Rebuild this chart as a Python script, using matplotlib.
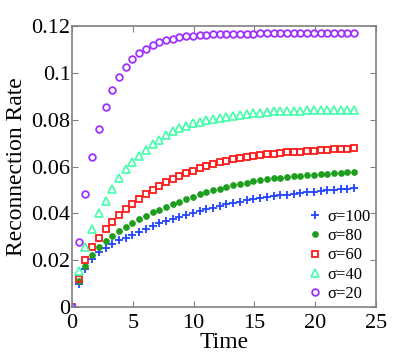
import numpy as np
import matplotlib
matplotlib.use("Agg")
import matplotlib.pyplot as plt
from matplotlib.ticker import FuncFormatter

# time axis: 43 samples, 0 .. 23.2
t = np.linspace(0, 23.2, 43)

# values
s100 = [0, 0.0097, 0.0161, 0.0204, 0.0235, 0.0252, 0.0269, 0.0285, 0.0296, 0.0309,
        0.0320, 0.0333, 0.0346, 0.0357, 0.0367, 0.0376, 0.0386, 0.0394, 0.0403, 0.0410,
        0.0418, 0.0424, 0.0433, 0.0439, 0.0445, 0.0450, 0.0456, 0.0461, 0.0465, 0.0471,
        0.0474, 0.0477, 0.0480, 0.0483, 0.0486, 0.0489, 0.0492, 0.0495, 0.0498, 0.0500,
        0.0503, 0.0506, 0.0509]
s80 = [0, 0.0111, 0.0175, 0.0222, 0.0255, 0.0282, 0.0302, 0.0325, 0.0342, 0.0359,
       0.0374, 0.0390, 0.0404, 0.0414, 0.0428, 0.0440, 0.0450, 0.0462, 0.0471, 0.0481,
       0.0490, 0.0498, 0.0505, 0.0512, 0.0519, 0.0525, 0.0531, 0.0537, 0.0541, 0.0547,
       0.0549, 0.0552, 0.0555, 0.0558, 0.0560, 0.0563, 0.0565, 0.0567, 0.0570, 0.0572,
       0.0574, 0.0576, 0.0578]
s60 = [0, 0.0121, 0.0201, 0.0255, 0.0296, 0.0332, 0.0363, 0.0392, 0.0417, 0.0440,
       0.0460, 0.0481, 0.0498, 0.0517, 0.0532, 0.0547, 0.0559, 0.0571, 0.0582, 0.0592,
       0.0602, 0.0611, 0.0618, 0.0625, 0.0632, 0.0636, 0.0642, 0.0645, 0.0649, 0.0652,
       0.0655, 0.0658, 0.0660, 0.0662, 0.0664, 0.0666, 0.0668, 0.0670, 0.0671, 0.0673,
       0.0674, 0.0676, 0.0677]
s40 = [0, 0.0155, 0.0257, 0.0334, 0.0400, 0.0454, 0.0505, 0.0552, 0.0588, 0.0618,
       0.0645, 0.0672, 0.0695, 0.0713, 0.0734, 0.0751, 0.0763, 0.0773, 0.0784, 0.0791,
       0.0798, 0.0804, 0.0808, 0.0812, 0.0817, 0.0821, 0.0824, 0.0827, 0.0830, 0.0834,
       0.0835, 0.0836, 0.0837, 0.0838, 0.0839, 0.0840, 0.0840, 0.0841, 0.0841, 0.0842,
       0.0842, 0.0842, 0.0842]
s20 = [0, 0.0276, 0.0483, 0.0640, 0.0761, 0.0855, 0.0928, 0.0983, 0.1026, 0.1060,
       0.1084, 0.1103, 0.1118, 0.1130, 0.1139, 0.1146, 0.1152, 0.1156, 0.1159, 0.1161,
       0.1163, 0.1164, 0.1165, 0.1166, 0.1166, 0.1167, 0.1167, 0.1167, 0.1168, 0.1168,
       0.1168, 0.1168, 0.1168, 0.1168, 0.1168, 0.1168, 0.1168, 0.1168, 0.1168, 0.1168,
       0.1168, 0.1168, 0.1168]

labels = ["\u03c3=100", "\u03c3=80", "\u03c3=60", "\u03c3=40", "\u03c3=20"]

plt.rcParams['font.family'] = ['Liberation Serif', 'DejaVu Serif']

fig = plt.figure(figsize=(4.15, 3.56), dpi=100)
ax = fig.add_axes([0.1735, 0.1376, 0.7325, 0.7894])

ax.plot(t, s100, '+', color='#2244ff', ms=5.5, mew=1.3, label=labels[0])
ax.plot(t, s80, 'o', color='#1e9e1e', ms=4, mew=0.8, label=labels[1])
ax.plot(t, s60, 's', color='#ff1a1a', mfc='none', ms=4.3, mew=1.3, label=labels[2])
ax.plot(t, s40, '^', color='#44ffaa', mfc='none', ms=5.8, mew=1.2, label=labels[3])
ax.plot(t, s20, 'o', color='#a030ff', mfc='none', ms=4.8, mew=1.3, label=labels[4])

ax.set_xlim(0, 25)
ax.set_ylim(0, 0.12)
ax.set_xticks([0, 5, 10, 15, 20, 25])
ax.set_yticks([0, 0.02, 0.04, 0.06, 0.08, 0.1, 0.12])
ax.yaxis.set_major_formatter(FuncFormatter(lambda v, p: '%g' % round(v, 3)))
ax.tick_params(direction='in', top=True, right=True, labelsize=16,
               color='#808080', length=4)
ax.tick_params(axis='x', pad=5)
ax.tick_params(axis='y', pad=1)
for sp in ax.spines.values():
    sp.set_color('#808080')
    sp.set_linewidth(1.2)

ax.set_xlabel('Time', fontsize=17, labelpad=-1)
ax.set_ylabel('Reconnection Rate', fontsize=17, labelpad=3)

ax.legend(loc='lower right', frameon=False, fontsize=12, handlelength=0.8,
          handletextpad=0.35, labelspacing=0.2, borderaxespad=0, borderpad=0.3)

fig.savefig('out.png', dpi=100)
